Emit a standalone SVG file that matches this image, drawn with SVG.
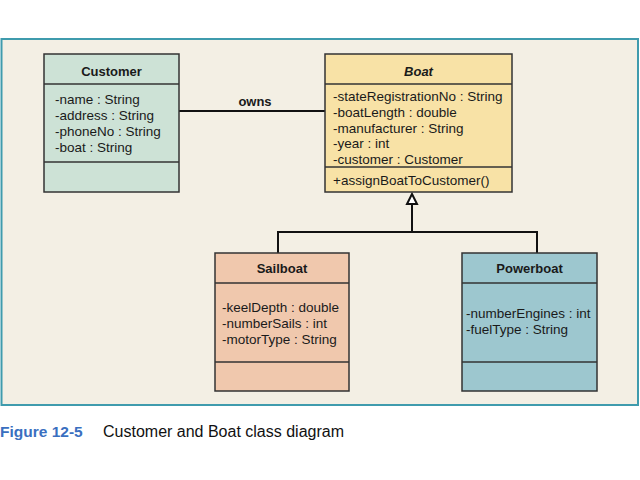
<svg xmlns="http://www.w3.org/2000/svg" width="640" height="480" viewBox="0 0 640 480">
<defs>
<style>
.box{stroke:#333;stroke-width:1.5}
.t{font-family:"Liberation Sans",Arial,sans-serif;font-size:13.5px;fill:#1a1a1a}
.h{font-family:"Liberation Sans",Arial,sans-serif;font-size:13px;font-weight:bold;fill:#1a1a1a;text-anchor:middle}
.ln{stroke:#111;stroke-width:2;fill:none}
</style>
</defs>
<rect x="0" y="0" width="640" height="480" fill="#ffffff"/>
<rect x="1.5" y="39" width="636.5" height="366" fill="#f3efe4" stroke="#3f9bad" stroke-width="2"/>
<g id="connectors">
<line class="ln" x1="179" y1="111" x2="325" y2="111"/>
<text class="h" x="255" y="106">owns</text>
<polyline class="ln" points="278,253 278,232 537,232 537,253"/>
<line class="ln" x1="412" y1="232" x2="412" y2="204"/>
<polygon points="412,194 407,204 417,204" fill="#fff" stroke="#111" stroke-width="2" stroke-linejoin="miter"/>
</g>
<g id="customer">
<rect class="box" x="44" y="54" width="135" height="138" fill="#cde2d6"/>
<line class="box" x1="44" y1="84" x2="179" y2="84"/>
<line class="box" x1="44" y1="162" x2="179" y2="162"/>
<text class="h" x="111.5" y="76">Customer</text>
<text class="t" x="55" y="104">-name : String</text>
<text class="t" x="55" y="120">-address : String</text>
<text class="t" x="55" y="136">-phoneNo : String</text>
<text class="t" x="55" y="152">-boat : String</text>
</g>
<g id="boat">
<rect class="box" x="325" y="54" width="187" height="138" fill="#f8e2a6"/>
<line class="box" x1="325" y1="84" x2="512" y2="84"/>
<line class="box" x1="325" y1="167" x2="512" y2="167"/>
<text class="h" x="418.5" y="76" font-style="italic">Boat</text>
<text class="t" x="333" y="101">-stateRegistrationNo : String</text>
<text class="t" x="333" y="116.8">-boatLength : double</text>
<text class="t" x="333" y="132.6">-manufacturer : String</text>
<text class="t" x="333" y="148.4">-year : int</text>
<text class="t" x="333" y="164.2">-customer : Customer</text>
<text class="t" x="333" y="185">+assignBoatToCustomer()</text>
</g>
<g id="sailboat">
<rect class="box" x="215" y="253" width="134" height="138" fill="#f0c8ad"/>
<line class="box" x1="215" y1="283" x2="349" y2="283"/>
<line class="box" x1="215" y1="362" x2="349" y2="362"/>
<text class="h" x="282" y="273">Sailboat</text>
<text class="t" x="222" y="312">-keelDepth : double</text>
<text class="t" x="222" y="328">-numberSails : int</text>
<text class="t" x="222" y="344">-motorType : String</text>
</g>
<g id="powerboat">
<rect class="box" x="462" y="253" width="135" height="138" fill="#9dc7cf"/>
<line class="box" x1="462" y1="283" x2="597" y2="283"/>
<line class="box" x1="462" y1="362" x2="597" y2="362"/>
<text class="h" x="529.5" y="273">Powerboat</text>
<text class="t" x="466" y="318">-numberEngines : int</text>
<text class="t" x="466" y="334">-fuelType : String</text>
</g>
<text x="0" y="437" font-family="'Liberation Sans',Arial,sans-serif" font-size="15.5" font-weight="bold" fill="#3a6fc0">Figure 12-5</text>
<text x="103" y="437" font-family="'Liberation Sans',Arial,sans-serif" font-size="16" fill="#111">Customer and Boat class diagram</text>
</svg>
